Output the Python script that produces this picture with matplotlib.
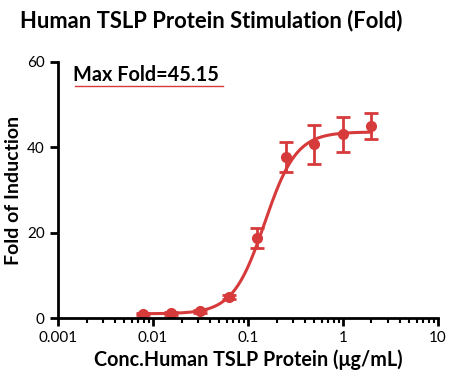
import numpy as np
import matplotlib.pyplot as plt
from matplotlib.ticker import LogLocator, NullFormatter, FixedLocator

plt.rcParams['font.family'] = ['Lato', 'DejaVu Sans']

conc = [0.0078, 0.0156, 0.03125, 0.0625, 0.125, 0.25, 0.5, 1.0, 2.0]
fold = [1.0, 1.1, 1.6, 4.9, 18.8, 37.8, 40.7, 43.1, 45.0]
err = [0.3, 0.3, 0.4, 0.5, 2.3, 3.5, 4.5, 4.1, 3.1]

# 4PL fit parameters
bottom, top, ec50, hill = 1.0, 43.6, 0.15, 2.6

red = '#d63a3a'

fig = plt.figure(figsize=(4.5, 3.8), dpi=100)
ax = fig.add_axes([0.129, 0.163, 0.844, 0.674])

xs = np.logspace(np.log10(conc[0]), np.log10(conc[-1]), 300)
ys = bottom + (top - bottom) / (1 + (ec50 / xs) ** hill)
ax.plot(xs, ys, color=red, lw=2.2)
ax.errorbar(conc, fold, yerr=err, fmt='o', color=red, ms=7,
            elinewidth=2, capsize=5, capthick=2)

ax.set_xscale('log')
ax.set_xlim(0.001, 10)
ax.set_ylim(0, 60)
ax.yaxis.set_major_locator(FixedLocator([0, 20, 40, 60]))
ax.xaxis.set_major_locator(FixedLocator([0.001, 0.01, 0.1, 1, 10]))
ax.set_xticklabels(['0.001', '0.01', '0.1', '1', '10'])
ax.xaxis.set_minor_locator(LogLocator(base=10, subs=np.arange(2, 10)))
ax.xaxis.set_minor_formatter(NullFormatter())

for s in ['top', 'right']:
    ax.spines[s].set_visible(False)
for s in ['left', 'bottom']:
    ax.spines[s].set_linewidth(2)
ax.tick_params(which='major', width=2, length=6, labelsize=11)
ax.tick_params(which='minor', width=1.5, length=3.5)

ax.set_xlabel('Conc.Human TSLP Protein (μg/mL)', fontsize=14.2, fontweight='bold', labelpad=3)
ax.set_ylabel('Fold of Induction', fontsize=14, fontweight='bold', labelpad=4)
fig.text(0.045, 0.975, 'Human TSLP Protein Stimulation (Fold)', fontsize=15.8,
         fontweight='bold', va='top')

ax.text(0.04, 0.99, 'Max Fold=45.15', transform=ax.transAxes, fontsize=14.3,
        fontweight='bold', va='top')
ax.plot([0.045, 0.435], [0.905, 0.905], transform=ax.transAxes, color=red, lw=1)

fig.savefig('out.png', dpi=100)
